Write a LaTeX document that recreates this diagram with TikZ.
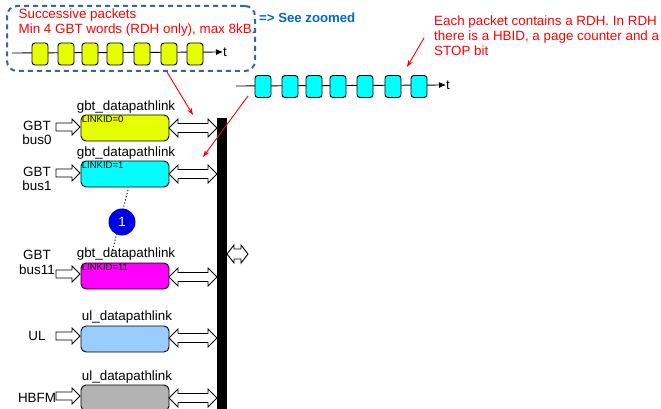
\documentclass[tikz,border=0pt]{standalone}
\usepackage{fontspec}
\setmainfont{Liberation Sans}
\usetikzlibrary{calc,arrows.meta}
\definecolor{linkyellow}{RGB}{230,255,0}
\definecolor{dashblue}{RGB}{52,101,164}
\definecolor{seeblue}{RGB}{0,102,204}
\definecolor{circblue}{RGB}{0,0,230}
\definecolor{ulblue}{RGB}{153,204,255}
\definecolor{hbgray}{RGB}{179,179,179}
\definecolor{txtred}{RGB}{255,0,0}
\definecolor{pktcyan}{RGB}{0,255,255}
\definecolor{linkmag}{RGB}{255,0,255}
\begin{document}
\begin{tikzpicture}[x=1pt,y=-1pt,
  every node/.style={font=\fontsize{13.4}{14.6}\selectfont, inner sep=0pt},
  linkbox/.style={draw=black, line width=0.9pt, rounded corners=5pt, minimum width=88pt, minimum height=26pt},
  pkt/.style={draw=black, line width=0.9pt, rounded corners=3pt, minimum width=16pt, minimum height=22pt},
  idlbl/.style={font=\fontsize{9.5}{10}\selectfont, anchor=north west, inner sep=1.2pt},
  blk/.style={draw=black, fill=white, line width=0.9pt, line join=miter},
  pics/dblarr/.style args={#1/#2/#3/#4}{code={
    \path[blk] (0,0) -- (#2,-#4) -- (#2,-#3) -- (#1-#2,-#3) -- (#1-#2,-#4) -- (#1,0)
      -- (#1-#2,#4) -- (#1-#2,#3) -- (#2,#3) -- (#2,#4) -- cycle;}},
  pics/inarr/.style args={#1/#2/#3/#4}{code={
    \path[blk] (0,-#3) -- (#1-#2,-#3) -- (#1-#2,-#4) -- (#1,0) -- (#1-#2,#4) -- (#1-#2,#3) -- (0,#3) -- cycle;}},
  redarr/.style={draw=txtred, line width=0.9pt, -{Stealth[length=7pt,width=5pt]}},
  tline/.style={draw=black, line width=0.9pt, -{Latex[length=7pt,width=6pt]}}
]
\useasboundingbox (0,0) rectangle (661,409);

% dashed zoom box
\node[draw=dashblue, line width=2pt, dash pattern=on 5pt off 4pt, rounded corners=10pt, minimum width=248pt, minimum height=65pt] (dz) at (131,38.5) {};
\node[anchor=west, align=left, text=txtred] (succ) at (18.5,22.5) {Successive packets\\Min 4 GBT words (RDH only), max 8kB.};
\node[anchor=west, text=seeblue, font=\fontsize{13.2}{14.6}\selectfont\bfseries] (see) at (259,18) {=> See zoomed};

% yellow timeline
\coordinate (ys) at (12,53);
\node[anchor=west] (yt) at (223,52) {t};
\draw[tline] (ys) -- (yt.west);
\foreach \i/\x in {1/40,2/66,3/90,4/115,5/142,6/169,7/195}{
  \node[pkt, fill=linkyellow] (p\i) at (\x,54) {};
}

% cyan timeline
\coordinate (cs) at (236,86);
\node[anchor=west] (ct) at (446,85) {t};
\draw[tline] (cs) -- (ct.west);
\foreach \i/\x in {1/263,2/290,3/314,4/338,5/365,6/393,7/419}{
  \node[pkt, fill=pktcyan] (q\i) at (\x,86.5) {};
}

% right note
\node[anchor=north west, align=left, text=txtred] (note) at (434,16) {Each packet contains a RDH. In RDH\\there is a HBID, a page counter and a\\STOP bit};

% bus
\node[fill=black, minimum width=10pt, minimum height=300pt, anchor=north] (bus) at (222,118) {};

% link boxes
\node[linkbox, fill=linkyellow] (l0) at (125,128) {};
\node[linkbox, fill=pktcyan] (l1) at (125,174) {};
\node[linkbox, fill=linkmag] (l11) at (125,276) {};
\node[linkbox, fill=ulblue] (lul) at (125,339) {};
\node[linkbox, fill=hbgray] (lhb) at (125,398) {};

\node (t0) at (126,107) {gbt\_datapathlink};
\node (t1) at (126,153) {gbt\_datapathlink};
\node (t11) at (126,254) {gbt\_datapathlink};
\node (tul) at (127,317) {ul\_datapathlink};
\node (thb) at (127,377) {ul\_datapathlink};

\node[idlbl] (id0) at (l0.north west) {LINKID=0};
\node[idlbl] (id1) at (l1.north west) {LINKID=1};
\node[idlbl] (id11) at (l11.north west) {LINKID=11};

% left labels
\node[align=center] (g0) at (37,133) {GBT\\bus0};
\node[align=center] (g1) at (37,179) {GBT\\bus1};
\node[align=center] (g11) at (37,262.5) {GBT\\bus11};
\node (gul) at (37,336) {UL};
\node (ghb) at (37,398) {HBFM};

% input arrows
\pic (i0) at (56,127) {inarr=24/8/4/8};
\pic (i1) at (56,173) {inarr=24/8/4/8};
\pic (i11) at (56,274) {inarr=24/8/4/8};
\pic (iul) at (56,336) {inarr=24/8/4/8};
\pic (ihb) at (56,396) {inarr=24/8/4/8};

% double arrows to bus
\pic (d0) at (169,128) {dblarr=48/9/4.5/9};
\pic (d1) at (169,174) {dblarr=48/9/4.5/9};
\pic (d11) at (169,277) {dblarr=48/9/4.5/9};
\pic (dul) at (169,338) {dblarr=48/9/4.5/9};
\pic (dhb) at (169,398) {dblarr=48/9/4.5/9};
\pic (dout) at (227,254) {dblarr=21/7/5/9};

% dotted link and marker
\coordinate (dt) at (128,190);
\coordinate (db) at (111,256);
\draw[line width=0.9pt, dash pattern=on 1.2pt off 2pt] (dt) -- (db);
\node[circle, fill=circblue, minimum size=27pt, text=white] (c1) at (122,222) {1};

% red arrows
\coordinate (r1s) at (167,72);
\coordinate (r1e) at (193,115);
\coordinate (r2s) at (248,96);
\coordinate (r2e) at (203,157);
\coordinate (r3s) at (424,38);
\coordinate (r3e) at (407,67);
\draw[redarr] (r1s) -- (r1e);
\draw[redarr] (r2s) -- (r2e);
\draw[redarr] (r3s) -- (r3e);
\end{tikzpicture}
\end{document}
